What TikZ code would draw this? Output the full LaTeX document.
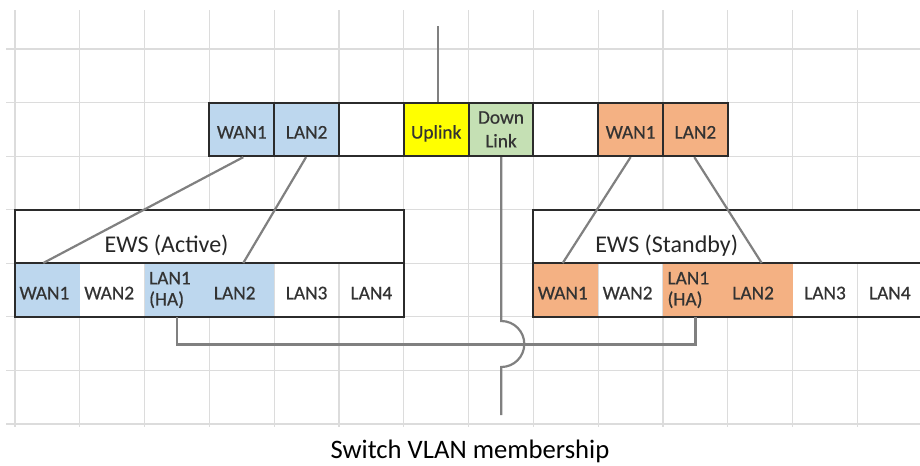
\documentclass[tikz,border=0pt]{standalone}
\usepackage{fontspec}
\setmainfont{Carlito}
\newfontfamily\cellfam[FakeBold=0.5]{Carlito}
\definecolor{cblue}{HTML}{BDD7EE}
\definecolor{corange}{HTML}{F4B183}
\definecolor{cyellow}{HTML}{FFFF00}
\definecolor{cgreen}{HTML}{C5E0B4}
\definecolor{gridc}{HTML}{DCDCDC}
\definecolor{bordc}{HTML}{2B2B2B}
\definecolor{connc}{HTML}{808080}
\definecolor{txtc}{HTML}{333333}
\definecolor{labc}{HTML}{262626}
\newcommand\cellfnt{\cellfam\fontsize{14.5}{17}\selectfont}
\newcommand\ewsfnt{\fontsize{18}{21}\selectfont}
\newcommand\capfnt{\fontsize{20}{24}\selectfont}
\begin{document}
\begin{tikzpicture}[x=0.75pt,y=0.75pt,yscale=-1,
  gridline/.style={draw=gridc, line width=0.9pt},
  cellbox/.style={minimum width=48.6pt, minimum height=40.18pt, inner sep=0pt, text=txtc, font=\cellfnt},
  onel/.style={text height=13.8pt, text depth=0pt},
  lcell/.style={cellbox, text width=41.8pt, align=left},
  swcell/.style={cellbox, draw=bordc, line width=1.5pt},
  boxline/.style={draw=bordc, line width=1.5pt},
  conn/.style={draw=connc, line width=1.65pt},
  ewstop/.style={fill=white, draw=bordc, line width=1.5pt, minimum height=40.18pt, inner sep=0pt},
  ewslabel/.style={font=\ewsfnt, text=labc, inner sep=0pt, anchor=base west},
]
\useasboundingbox (0,0) rectangle (920,465);
\clip (0,0) rectangle (920,465);
% grid
\foreach \i in {0,...,13} {\draw[gridline] ({15+64.8*\i},10) -- ({15+64.8*\i},427);}
\foreach \j in {0,...,7} {\draw[gridline] (6,{49+53.571*\j}) -- (920,{49+53.571*\j});}

% switch ports
\node[swcell, fill=cblue, onel] (sw1) at (241.8,129.35) {WAN1};
\node[swcell, fill=cblue, onel] (sw2) at (306.6,129.35) {LAN2};
\node[swcell] (sw3) at (371.4,129.35) {};
\node[swcell, fill=cyellow, onel] (sw4) at (436.2,129.35) {Uplink};
\node[swcell, fill=cgreen, align=center] (sw5) at (501.0,129.35) {Down\\[0.8pt]Link};
\node[swcell] (sw6) at (565.8,129.35) {};
\node[swcell, fill=corange, onel] (sw7) at (630.6,129.35) {WAN1};
\node[swcell, fill=corange, onel] (sw8) at (695.4,129.35) {LAN2};

% EWS boxes, upper parts
\node[ewstop, minimum width=291.6pt] (ewsa) at (209.4,236.5) {};
\node[ewstop, minimum width=297.45pt] (ewss) at (731.7,236.5) {};

% EWS (Active) ports
\node[lcell, fill=cblue, onel] (a1) at (47.4,290.07) {WAN1};
\node[lcell, onel] (a2) at (112.2,290.07) {WAN2};
\node[lcell, fill=cblue] (a3) at (177.0,290.07) {LAN1\\[-1.2pt](HA)};
\node[lcell, fill=cblue, onel] (a4) at (241.8,290.07) {LAN2};
\node[cellbox, onel] (a5) at (306.6,290.07) {LAN3};
\node[cellbox, onel] (a6) at (371.4,290.07) {LAN4};
\draw[boxline] (a1.north west) rectangle (a6.south east);

% EWS (Standby) ports
\node[lcell, fill=corange, onel] (s1) at (565.8,290.07) {WAN1};
\node[lcell, onel] (s2) at (630.6,290.07) {WAN2};
\node[lcell, fill=corange] (s3) at (695.4,290.07) {LAN1\\[-1.2pt](HA)};
\node[lcell, fill=corange, onel] (s4) at (760.2,290.07) {LAN2};
\node[cellbox, onel] (s5) at (825.0,290.07) {LAN3};
\node[cellbox, onel] (s6) at (889.8,290.07) {LAN4};
\draw[boxline] (s1.north west) rectangle ([xshift=10pt]s6.south east);

% connectors
\coordinate (uptop) at (438.3,26);
\coordinate (jtop) at (501.3,321);
\coordinate (dlend) at (501.3,415);
\draw[conn] (uptop) -- (uptop |- sw4.north);
\draw[conn] (sw5.south -| jtop) -- (jtop) arc (-90:90:23) -- (dlend);
\draw[conn] (a3.south) -- ++(0,27.3) -| (s3.south);
\draw[conn] ([xshift=1.1pt]sw1.south) -- ([xshift=-3.1pt]a1.north);
\draw[conn] ([xshift=-0.4pt]sw2.south) -- ([xshift=1.1pt]a4.north);
\draw[conn] (sw7.south) -- ([xshift=-2.3pt]s1.north);
\draw[conn] ([xshift=-0.8pt]sw8.south) -- ([xshift=1.1pt]s4.north);

% labels
\node[ewslabel] (la) at (104.3,252.7) {EWS (Active)};
\node[ewslabel] (ls) at (595,252.7) {EWS (Standby)};
\node[font=\capfnt, inner sep=0pt, anchor=base] (cap) at (470,458) {Switch VLAN membership};
\end{tikzpicture}
\end{document}
